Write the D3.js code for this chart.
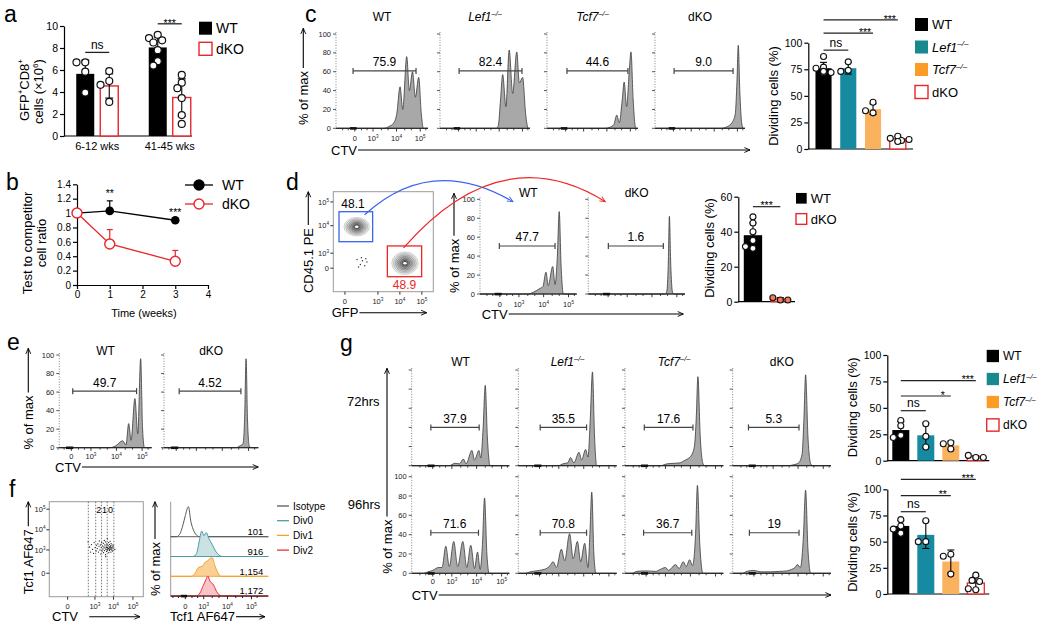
<!DOCTYPE html>
<html>
<head>
<meta charset="utf-8">
<script src="https://cdn.jsdelivr.net/npm/d3@7"></script>
<style>
  html,body{margin:0;padding:0;background:#fff;}
  svg{display:block;}
  text{font-family:"Liberation Sans",Arial,Helvetica,sans-serif;}
</style>
</head>
<body>
<svg id="fig" width="1050" height="632" viewBox="0 0 1050 632"></svg>
<script>
// ======================= DATA =======================
// --- panel a ---
const aGroups = ["6-12 wks", "41-45 wks"];
const aGenos = ["WT", "dKO"];
const aMeans = [[5.65, 4.55], [8.05, 3.5]];
const aSD = [[1.25, 1.1], [0.95, 1.7]];
const aPoints = [
  [[6.7, 6.7, 5.85, 3.95], [5.9, 5.0, 4.65, 3.1]],
  [[9.2, 8.9, 8.7, 8.5, 7.8, 6.8, 6.4], [5.55, 4.85, 4.35, 3.45, 1.9, 1.1]]
];
const aTicks = [0, 2, 4, 6, 8, 10];
const aSigLabels = ["ns", "***"];
const aSigLevel = [7.6, 10.2];

// --- panel b ---
const bTime = [0, 1, 3];
const bWT = [1, 1.03, 0.9];
const bWTsd = [0, 0.14, 0];
const bKO = [1, 0.57, 0.33];
const bKOsd = [0, 0.2, 0.15];
const bSig = ["", "**", "***"];
const bTicksY = [0, 0.2, 0.4, 0.6, 0.8, 1, 1.2, 1.4];
const bTicksX = [0, 1, 2, 3, 4];

// --- flow histogram common ---
const pctTicks = [0, 20, 40, 60, 80, 100];
const ctvTickPos = [0, 0.82, 1.88, 2.95];
const logTickLab = ["0", "10^{3}", "10^{4}", "10^{5}"];
const ctvMinor = [-0.55, -0.3, 0.3, 0.55, 1.2, 1.5, 2.25, 2.55, 3.2];

// --- panel c ---
const fourGenos = ["WT", "Lef1", "Tcf7", "dKO"];
const cHist = [
  [[-0.85,0],[1.3,0],[1.55,2],[1.73,5],[1.89,15],[2.04,44],[2.16,20],[2.34,76],[2.46,40],[2.6,60],[2.73,33],[2.88,54],[3.0,15],[3.09,0],[3.3,0]],
  [[-0.85,0],[1.75,0],[1.84,3],[1.94,30],[2.04,57],[2.19,23],[2.34,83],[2.5,37],[2.69,81],[2.81,48],[2.96,54],[3.1,15],[3.22,0],[3.3,0]],
  [[-0.85,0],[1.8,0],[2.0,1],[2.2,4],[2.33,14],[2.45,6],[2.58,30],[2.67,49],[2.78,23],[2.9,60],[2.98,81],[3.08,30],[3.2,0],[3.3,0]],
  [[-0.85,0],[2.2,0],[2.5,2],[2.7,6],[2.85,15],[2.93,50],[2.99,88],[3.06,40],[3.15,5],[3.22,0],[3.3,0]]
];
const cGates = [[-0.08, 2.76, 60.8], [0.03, 2.93, 60.8], [0.06, 2.84, 60.8], [0.03, 2.75, 60.8]];
const cGateLab = ["75.9", "82.4", "44.6", "9.0"];
const cMeans = [76, 76, 37.5, 9.5];
const cSD = [5.5, 5.5, 5, 2.5];
const cPoints = [[87, 77, 76, 72, 72, 73], [82, 74, 73], [44, 34, 36], [12, 10, 8, 9, 7]];
const cSig = [[0, 1, "ns", 93], [0, 2, "***", 109], [0, 3, "***", 121.5]];
const divTicks = [0, 25, 50, 75, 100];

// --- panel d ---
const dDotXTicks = [0, 1.5, 2.5, 3.5];
const dDotYTicks = [0, 0.6, 1.7, 2.65];
const dPops = [[0.535, 1.66, 0.58, 0.37], [2.73, 0.2, 0.6, 0.45]];   // GFP, CD45.1 centre and spread
const dContourLevels = [1, 0.86, 0.73, 0.6, 0.48, 0.36, 0.25, 0.15];
const dScatter = [[0.55,0.35],[0.7,0.15],[0.8,0.3],[0.9,0.1],[0.62,0.05],[1.0,0.25],[0.75,0.42],[0.95,0.38]];
const dGates = [[-0.27, 1.26, 1.06, 2.26], [1.93, 3.49, -0.34, 0.89]];
const dGateLab = ["48.1", "48.9"];
const dHistNames = ["WT", "dKO"];
const dHist = [
  [[-0.85,0],[1.2,0],[1.45,2],[1.73,6],[1.85,8],[1.98,23],[2.08,9],[2.27,29],[2.37,10],[2.47,40],[2.55,87],[2.63,30],[2.73,0],[3.3,0]],
  [[-0.85,0],[2.45,0],[2.52,3],[2.58,30],[2.63,82],[2.69,30],[2.76,2],[2.8,0],[3.3,0]]
];
const dHGates = [[-0.02, 2.37, 50.7], [0.01, 2.37, 50.7]];
const dHGateLab = ["47.7", "1.6"];
const dMeans = [38, 1.5];
const dSD = [7, 0.8];
const dPoints = [[48.5, 45, 40, 35, 30.5, 31.5], [1, 2.3, 1]];
const dTicks = [0, 20, 40, 60];
const dSig = [[0, 1, "***", 54.3]];

// --- panel e ---
const eHist = [
  [[-0.5,0],[1.6,0],[1.85,2],[2.14,7.5],[2.28,3],[2.39,26],[2.49,8],[2.65,53],[2.77,15],[2.89,96],[2.97,20],[3.05,0],[3.35,0]],
  [[-0.5,0],[2.45,0],[2.6,2],[2.72,4],[2.79,30],[2.85,96],[2.91,30],[2.98,2],[3.05,0],[3.35,0]]
];
const eGates = [[0.06, 2.72, 61], [0.12, 2.64, 61]];
const eGateLab = ["49.7", "4.52"];

// --- panel f ---
const fDotXTicks = [0, 1.4, 2.35, 3.35];
const fDotYTicks = [0, 1.15, 2.15, 3.17];
const fDivGates = [1.06, 1.44, 1.74, 2.03, 2.37];
const fDivLab = ["2", "1", "0"];
const fDots = [[1.05,1.55],[1.12,1.30],[1.18,1.05],[1.22,1.42],[1.28,1.18],[1.33,0.98],[1.36,1.52],[1.41,1.27],[1.46,1.10],[1.48,1.38],
  [1.52,1.22],[1.55,1.45],[1.58,1.05],[1.61,1.33],[1.63,1.60],[1.66,1.15],[1.68,1.40],[1.70,0.95],[1.72,1.27],[1.75,1.52],[1.77,1.10],[1.79,1.35],
  [1.81,1.20],[1.83,1.48],[1.84,1.02],[1.86,1.30],[1.88,1.62],[1.89,1.12],[1.91,1.40],[1.92,1.25],[1.94,0.92],[1.95,1.55],[1.97,1.18],[1.98,1.35],
  [2.00,1.08],[2.01,1.45],[2.03,1.28],[2.04,1.70],[2.06,1.15],[2.07,1.38],[2.09,1.22],[2.10,1.52],[2.11,1.02],[2.13,1.32],[2.14,1.42],[2.15,1.12],
  [2.17,1.27],[2.18,1.58],[2.19,1.20],[2.21,1.36],[2.22,1.05],[2.23,1.47],[2.25,1.25],[2.26,1.15],[2.28,1.40],[2.29,1.30],[2.31,1.10],[2.33,1.22],
  [2.35,1.35],[2.42,1.18],[1.95,0.82],[2.12,1.25],[2.20,1.30],[2.05,1.20],[1.99,1.27],[2.16,1.18]];
const fLayers = ["Isotype", "Div0", "Div1", "Div2"];
const fMFI = ["101", "916", "1,154", "1,172"];
const fHist = [
  [[-0.65,0],[-0.4,0],[-0.25,8],[-0.1,40],[0.0,70],[0.14,100],[0.25,50],[0.35,25],[0.5,5],[0.63,0],[3.7,0]],
  [[-0.65,0],[0.35,0],[0.5,10],[0.62,50],[0.73,85],[0.83,69],[0.93,80],[1.05,60],[1.2,40],[1.35,18],[1.5,5],[1.65,0],[3.7,0]],
  [[-0.65,0],[0.3,0],[0.45,12],[0.6,30],[0.75,33],[0.9,48],[1.0,52],[1.12,60],[1.2,62],[1.3,40],[1.45,12],[1.6,0],[3.7,0]],
  [[-0.65,0],[0.5,0],[0.65,10],[0.8,35],[0.92,55],[1.0,67],[1.1,50],[1.25,38],[1.4,15],[1.55,2],[1.65,0],[3.7,0]]
];

// --- panel g ---
const gTimes = ["72hrs", "96hrs"];
const g72Hist = [
  [[-0.9,0],[0.7,0],[0.96,2.5],[1.15,2],[1.31,7],[1.43,2],[1.68,16],[1.79,6],[1.98,16],[2.06,8],[2.16,40],[2.25,84],[2.34,30],[2.46,0],[3.28,0]],
  [[-0.9,0],[0.8,0],[1.0,2],[1.2,3],[1.32,8.5],[1.46,3],[1.68,14],[1.79,6],[1.96,17],[2.06,9],[2.16,50],[2.25,98],[2.34,30],[2.43,0],[3.28,0]],
  [[-0.9,0],[0.6,0],[0.9,2],[1.2,2.5],[1.45,3],[1.6,5],[1.75,7],[1.9,10],[2.05,20],[2.13,50],[2.2,93],[2.3,30],[2.42,2],[2.5,0],[3.28,0]],
  [[-0.9,0],[1.4,0],[1.7,1],[1.9,3],[2.05,12],[2.13,50],[2.2,95],[2.3,30],[2.42,2],[2.5,0],[3.28,0]]
];
const g96Hist = [
  [[-0.9,0],[-0.4,0],[-0.2,1.5],[0.0,3],[0.25,6],[0.4,6],[0.56,28],[0.71,7],[0.9,33],[1.07,7],[1.29,33],[1.46,6],[1.63,29],[1.79,5],[1.92,22],[2.03,4],[2.13,30],[2.22,78],[2.32,20],[2.42,0],[3.28,0]],
  [[-0.9,0],[-0.6,0],[-0.4,1.5],[0.0,3],[0.3,5],[0.45,8],[0.58,12],[0.72,6],[0.93,25],[1.07,13],[1.28,41],[1.43,15],[1.61,33],[1.75,12],[1.92,31],[2.06,6],[2.14,40],[2.22,84],[2.31,20],[2.4,0],[3.28,0]],
  [[-0.9,0],[-0.6,0],[-0.4,2],[0.0,2.5],[0.4,2],[0.6,4],[0.82,6],[0.95,3],[1.25,9],[1.4,5],[1.58,12],[1.7,7],[1.85,14],[1.97,8],[2.1,40],[2.18,91],[2.28,30],[2.42,0],[3.28,0]],
  [[-0.9,0],[-0.5,0],[-0.3,2],[0,3],[0.3,1.5],[0.7,1.5],[1.1,2],[1.4,2.5],[1.6,4],[1.75,6],[1.85,9],[1.98,6],[2.1,35],[2.2,86],[2.3,25],[2.42,0],[3.28,0]]
];
const g72Gates = [[-0.08, 1.99, 40], [0.03, 2.0, 40], [-0.08, 1.99, 40], [-0.23, 1.92, 40]];
const g72GateLab = ["37.9", "35.5", "17.6", "5.3"];
const g96Gates = [[-0.08, 1.96, 42], [0.03, 2.0, 42], [-0.11, 1.94, 42], [-0.19, 1.92, 42]];
const g96GateLab = ["71.6", "70.8", "36.7", "19"];
const g72Means = [29, 24, 14.5, 3.7];
const g72SD = [8, 11.5, 4, 1.2];
const g72Points = [[38, 33, 24, 22], [35, 23, 13], [17, 16, 11], [3, 5, 3]];
const g72Sig = [[0, 1, "ns", 47.3], [0, 2, "*", 61.2], [0, 3, "***", 75.7]];
const g96Means = [65, 56.5, 31, 10.5];
const g96SD = [5.5, 13, 11, 6.5];
const g96Points = [[71, 65, 62, 58], [70, 50, 50], [38, 36, 19], [18, 13, 12, 4, 5]];
const g96Sig = [[0, 1, "ns", 78.6], [0, 2, "**", 93.9], [0, 3, "***", 109.5]];

// ======================= STYLE =======================
const C_TEAL = "#168aa0", C_TEAL_L = "#17898f";
const C_ORANGE = "#fbb25e", C_ORANGE_L = "#fd9b27";
const C_RED = "#e8262b";
const barFill = ["#000", C_TEAL, C_ORANGE, "#fff"];
const barStroke = [null, null, null, C_RED];
const legFill = ["#000", C_TEAL_L, C_ORANGE_L, "#fff"];
const legStroke = [null, null, null, C_RED];
const fStroke = ["#5a5a5a", "#4d9aa1", "#f4a02c", "#ee2e3b"];
const fFill = ["none", "#c9e2e2", "#fbd095", "#f8c4c7"];

// ======================= HELPERS =======================
const svg = d3.select("#fig");
svg.append("rect").attr("width", 1050).attr("height", 632).attr("fill", "#fff");
const defs = svg.append("defs");
[["arr", "#000"], ["arrB", "#3a63ee"], ["arrR", "#ee2525"]].forEach(([id, c]) => {
  defs.append("marker").attr("id", id).attr("viewBox", "0 0 10 10").attr("refX", 9).attr("refY", 5)
    .attr("markerWidth", 7).attr("markerHeight", 7).attr("markerUnits", "userSpaceOnUse").attr("orient", "auto")
    .append("path").attr("d", "M1,1.5 L9,5 L1,8.5").attr("fill", "none").attr("stroke", c).attr("stroke-width", 1.3);
});

function rich(t, s, size) {
  const parts = s.split(/(\^\{[^}]*\})/).filter(p => p !== "");
  let shift = 0;
  parts.forEach(p => {
    const m = p.match(/^\^\{([^}]*)\}$/);
    const ts = t.append("tspan");
    if (m) { ts.text(m[1]).attr("font-size", size * 0.62).attr("dy", -size * 0.4 - shift); shift = -size * 0.4; }
    else { ts.text(p); if (shift !== 0) ts.attr("dy", -shift); shift = 0; }
  });
}
function txt(g, x, y, s, size, o = {}) {
  const t = g.append("text").attr("x", x).attr("y", y).attr("font-size", size)
    .attr("text-anchor", o.anchor || "start").attr("fill", o.fill || "#000");
  if (o.italic) t.attr("font-style", "italic");
  if (o.rotate) t.attr("transform", `rotate(-90,${x},${y})`);
  rich(t, s, size);
  return t;
}
function genoLabel(n) {
  if (n === "Lef1" || n === "Tcf7") return { s: n + "^{\u2013/\u2013}", italic: true };
  return { s: n, italic: false };
}
function vArrow(g, cx, cy, s, yTop, size) {
  const t = txt(g, cx + size * 0.36, cy, s, size, { anchor: "middle", rotate: true });
  const w = t.node().getComputedTextLength();
  g.append("line").attr("x1", cx).attr("x2", cx).attr("y1", cy - w / 2 - 3).attr("y2", yTop)
    .attr("stroke", "#000").attr("stroke-width", 1.1).attr("marker-end", "url(#arr)");
}
function hArrow(g, x, y, s, x2, size, startX) {
  const t = txt(g, x, y + size * 0.36, s, size);
  const w = t.node().getComputedTextLength();
  g.append("line").attr("x1", startX !== undefined ? startX : x + w + 1).attr("x2", x2).attr("y1", y).attr("y2", y)
    .attr("stroke", "#000").attr("stroke-width", 1.1).attr("marker-end", "url(#arr)");
}
function styleAxis(sel, fs) {
  sel.attr("font-family", null).attr("font-size", null);
  sel.select(".domain").attr("stroke", "#000").attr("stroke-width", 1.2);
  sel.selectAll(".tick line").attr("stroke", "#000").attr("stroke-width", 1.2);
  sel.selectAll(".tick text").attr("font-size", fs).attr("fill", "#000");
}
function swarm(vals, cx, y, r) {
  const placed = [];
  const offs = [0, -1, 1, -2, 2, -3, 3];
  return vals.map(v => {
    const py = y(v);
    for (const k of offs) {
      const px = cx + k * r * 1.25;
      if (placed.every(p => Math.hypot(p[0] - px, p[1] - py) >= 1.75 * r)) { placed.push([px, py]); return [px, py]; }
    }
    placed.push([cx, py]); return [cx, py];
  });
}
function gate(g, x, y, gt, lab) {
  const [u0, u1, gy] = gt, yy = y(gy);
  g.append("line").attr("x1", x(u0)).attr("x2", x(u1)).attr("y1", yy).attr("y2", yy).attr("stroke", "#444").attr("stroke-width", 1.2);
  [u0, u1].forEach(u => g.append("line").attr("x1", x(u)).attr("x2", x(u)).attr("y1", yy - 3).attr("y2", yy + 3).attr("stroke", "#444").attr("stroke-width", 1.2));
  txt(g, (x(u0) + x(u1)) / 2, yy - 4.5, lab, 12, { anchor: "middle" });
}
function flowHist(g, o) {
  const x = d3.scaleLinear().domain(o.dom).range([o.x0, o.x1]);
  const y = d3.scaleLinear().domain([0, 100]).range([o.yBot, o.yTop]);
  g.append("line").attr("x1", o.x0).attr("x2", o.x0).attr("y1", o.yTop - 2).attr("y2", o.yBot)
    .attr("stroke", "#777").attr("stroke-width", 0.9).attr("stroke-dasharray", "1,1.6");
  pctTicks.forEach(t => {
    g.append("line").attr("x1", o.x0 - 3).attr("x2", o.x0).attr("y1", y(t)).attr("y2", y(t)).attr("stroke", "#444").attr("stroke-width", 0.9);
    if (o.yLabels) txt(g, o.x0 - 5, y(t) + 2.6, String(t), 7.5, { anchor: "end", fill: "#222" });
  });
  const area = d3.area().x(d => x(d[0])).y0(y(0)).y1(d => y(d[1])).curve(d3.curveMonotoneX);
  g.append("path").datum(o.data).attr("d", area).attr("fill", "#a8a8a8").attr("stroke", "#3a3a3a")
    .attr("stroke-width", 0.8).attr("stroke-linejoin", "round");
  g.append("line").attr("x1", o.x0).attr("x2", o.x1).attr("y1", o.yBot).attr("y2", o.yBot).attr("stroke", "#222").attr("stroke-width", 1);
  ctvTickPos.forEach(p => g.append("line").attr("x1", x(p)).attr("x2", x(p)).attr("y1", o.yBot).attr("y2", o.yBot + 3.2).attr("stroke", "#222").attr("stroke-width", 0.9));
  ctvMinor.forEach(p => g.append("line").attr("x1", x(p)).attr("x2", x(p)).attr("y1", o.yBot).attr("y2", o.yBot + 2).attr("stroke", "#222").attr("stroke-width", 0.8));
  g.append("rect").attr("x", x(-0.22)).attr("y", o.yBot - 1.2).attr("width", x(0.08) - x(-0.22)).attr("height", 2.6).attr("fill", "#111");
  if (o.xLabels) logTickLab.forEach((s, i) => txt(g, x(ctvTickPos[i]), o.xLabY, s, 7.5, { anchor: "middle", fill: "#222" }));
  if (o.gate) gate(g, x, y, o.gate, o.gateLab);
  if (o.title) { const gl = genoLabel(o.title); txt(g, (o.x0 + o.x1) / 2, o.titleY, gl.s, 12, { anchor: "middle", italic: gl.italic }); }
  return { x, y };
}
function barChart(g, o) {
  const x = d3.scaleBand().domain(o.cats).range(o.xr).paddingInner(o.pi).paddingOuter(o.po);
  const y = d3.scaleLinear().domain([0, o.yMax]).range(o.yr);
  const bw = x.bandwidth();
  const ax = g.append("g").attr("transform", `translate(${o.xr[0]},0)`)
    .call(d3.axisLeft(y).tickValues(o.ticks).tickSize(4).tickSizeOuter(0).tickPadding(2));
  styleAxis(ax, 10.5);
  g.append("line").attr("x1", o.xr[0]).attr("x2", o.xr[1]).attr("y1", y(0)).attr("y2", y(0)).attr("stroke", "#000").attr("stroke-width", 1.2);
  o.cats.forEach((c, i) => {
    const bx = x(c), m = o.means[i], sd = o.sds[i], cx = bx + bw / 2;
    g.append("rect").attr("x", bx).attr("y", y(m)).attr("width", bw).attr("height", y(0) - y(m))
      .attr("fill", o.fills[i]).attr("stroke", o.strokes[i] || "none").attr("stroke-width", 1.3);
    g.append("line").attr("x1", cx).attr("x2", cx).attr("y1", y(Math.max(0, m - sd))).attr("y2", y(m + sd)).attr("stroke", "#000").attr("stroke-width", 1.1);
    [m + sd, Math.max(0, m - sd)].forEach(v => g.append("line").attr("x1", cx - 3.5).attr("x2", cx + 3.5).attr("y1", y(v)).attr("y2", y(v)).attr("stroke", "#000").attr("stroke-width", 1.1));
    swarm(o.points[i], cx, y, o.r).forEach(([px, py]) => g.append("circle").attr("cx", px).attr("cy", py).attr("r", o.r)
      .attr("fill", (o.ptFill && o.ptFill[i]) || "#fff").attr("stroke", "#111").attr("stroke-width", 1.1));
  });
  (o.sig || []).forEach(([i, j, lab, lv]) => {
    const xa = x(o.cats[i]) + bw / 2, xb = x(o.cats[j]) + bw / 2, yy = y(lv);
    g.append("line").attr("x1", xa).attr("x2", xb).attr("y1", yy).attr("y2", yy).attr("stroke", "#222").attr("stroke-width", 1.2);
    const tx = (j - i > 1) ? xb - 8 : (xa + xb) / 2;
    if (lab === "ns") txt(g, tx, yy - 3.5, lab, 12, { anchor: "middle" });
    else txt(g, tx, yy + 2.8, lab, 10.5, { anchor: "middle" });
  });
  return { x, y };
}
function legend(g, x, yc0, step, sz, names, fills, strokes, fs) {
  names.forEach((n, i) => {
    const yc = yc0 + i * step;
    g.append("rect").attr("x", x).attr("y", yc - sz / 2).attr("width", sz).attr("height", sz)
      .attr("fill", fills[i]).attr("stroke", strokes[i] || "none").attr("stroke-width", 1.4);
    const gl = genoLabel(n);
    txt(g, x + sz + 4, yc + fs * 0.36, gl.s, fs, { italic: gl.italic });
  });
}

// ======================= PANEL LETTERS =======================
[["a", 4, 22], ["b", 6, 190], ["c", 305, 22], ["d", 286, 190], ["e", 7, 350], ["f", 9, 497], ["g", 340, 351]]
  .forEach(([l, x, y]) => txt(svg, x, y, l, 23));

// ======================= PANEL A =======================
(function () {
  const g = svg.append("g");
  const y = d3.scaleLinear().domain([0, 10]).range([136, 26]);
  const xg = d3.scaleBand().domain(aGroups).range([61, 206]);
  const xi = d3.scaleBand().domain(aGenos).range([0, xg.bandwidth()]).paddingInner(0.25).paddingOuter(0.635);
  const ax = g.append("g").attr("transform", "translate(64,0)").call(d3.axisLeft(y).tickValues(aTicks).tickSize(4).tickSizeOuter(0).tickPadding(2));
  styleAxis(ax, 10.5);
  g.append("line").attr("x1", 64).attr("x2", 192).attr("y1", y(0)).attr("y2", y(0)).attr("stroke", "#000").attr("stroke-width", 1.2);
  const bw = xi.bandwidth();
  aGroups.forEach((grp, gi) => {
    const centers = [];
    aGenos.forEach((gen, k) => {
      const bx = xg(grp) + xi(gen), m = aMeans[gi][k], sd = aSD[gi][k], cx = bx + bw / 2;
      centers.push(cx);
      g.append("rect").attr("x", bx).attr("y", y(m)).attr("width", bw).attr("height", y(0) - y(m))
        .attr("fill", k === 0 ? "#000" : "#fff").attr("stroke", k === 0 ? "none" : C_RED).attr("stroke-width", 1.4);
      g.append("line").attr("x1", cx).attr("x2", cx).attr("y1", y(m - sd)).attr("y2", y(m + sd)).attr("stroke", "#000").attr("stroke-width", 1.1);
      [m + sd, m - sd].forEach(v => g.append("line").attr("x1", cx - 4).attr("x2", cx + 4).attr("y1", y(v)).attr("y2", y(v)).attr("stroke", "#000").attr("stroke-width", 1.1));
      swarm(aPoints[gi][k], cx, y, 3.5).forEach(([px, py]) => g.append("circle").attr("cx", px).attr("cy", py).attr("r", 3.5)
        .attr("fill", "#fff").attr("stroke", "#111").attr("stroke-width", 1.2));
    });
    txt(g, xg(grp) + xg.bandwidth() / 2, 150, grp, 11, { anchor: "middle" });
    const yy = y(aSigLevel[gi]);
    g.append("line").attr("x1", centers[0]).attr("x2", centers[1]).attr("y1", yy).attr("y2", yy).attr("stroke", "#222").attr("stroke-width", 1.3);
    if (aSigLabels[gi] === "ns") txt(g, (centers[0] + centers[1]) / 2, yy - 3.5, "ns", 12, { anchor: "middle" });
    else txt(g, (centers[0] + centers[1]) / 2, yy + 2.8, aSigLabels[gi], 10.5, { anchor: "middle" });
  });
  legend(g, 199, 28.2, 20.6, 13, aGenos, ["#000", "#fff"], [null, C_RED], 14);
  txt(g, 24 + 4.7, 90, "GFP^{+}CD8^{+}", 13, { anchor: "middle", rotate: true });
  txt(g, 38.5 + 4.7, 91.5, "cells (\u00d710^{6})", 13, { anchor: "middle", rotate: true });
})();

// ======================= PANEL B =======================
(function () {
  const g = svg.append("g");
  const x = d3.scaleLinear().domain([0, 4]).range([77, 208]);
  const y = d3.scaleLinear().domain([0, 1.4]).range([285, 184.3]);
  const ay = g.append("g").attr("transform", "translate(77,0)").call(d3.axisLeft(y).tickValues(bTicksY).tickFormat(d3.format("~g")).tickSize(4).tickSizeOuter(0).tickPadding(2));
  styleAxis(ay, 10);
  const axx = g.append("g").attr("transform", "translate(0,285)").call(d3.axisBottom(x).tickValues(bTicksX).tickFormat(d3.format("d")).tickSize(4).tickSizeOuter(0).tickPadding(2));
  styleAxis(axx, 10);
  const line = d3.line().x((d, i) => x(bTime[i])).y(d => y(d));
  [[bWT, bWTsd, "#000"], [bKO, bKOsd, C_RED]].forEach(([vals, sds, col]) => {
    vals.forEach((v, i) => {
      if (sds[i] > 0) {
        g.append("line").attr("x1", x(bTime[i])).attr("x2", x(bTime[i])).attr("y1", y(v)).attr("y2", y(v + sds[i])).attr("stroke", col).attr("stroke-width", 1.2);
        g.append("line").attr("x1", x(bTime[i]) - 3).attr("x2", x(bTime[i]) + 3).attr("y1", y(v + sds[i])).attr("y2", y(v + sds[i])).attr("stroke", col).attr("stroke-width", 1.2);
      }
    });
  });
  g.append("path").datum(bKO).attr("d", line).attr("fill", "none").attr("stroke", C_RED).attr("stroke-width", 1.3);
  g.append("path").datum(bWT).attr("d", line).attr("fill", "none").attr("stroke", "#000").attr("stroke-width", 1.3);
  bKO.forEach((v, i) => g.append("circle").attr("cx", x(bTime[i])).attr("cy", y(v)).attr("r", 5).attr("fill", "#fff").attr("stroke", C_RED).attr("stroke-width", 1.4));
  bWT.forEach((v, i) => { if (i > 0) g.append("circle").attr("cx", x(bTime[i])).attr("cy", y(v)).attr("r", 4.3).attr("fill", "#000"); });
  bSig.forEach((s, i) => { if (s) txt(g, x(bTime[i]), y(bWT[i] + bWTsd[i]) - 4, s, 10.5, { anchor: "middle" }); });
  [["WT", "#000", "#000", 185], ["dKO", C_RED, "#fff", 204]].forEach(([n, c, f, yy]) => {
    g.append("line").attr("x1", 185).attr("x2", 213).attr("y1", yy).attr("y2", yy).attr("stroke", c).attr("stroke-width", 1.3);
    g.append("circle").attr("cx", 199).attr("cy", yy).attr("r", 5).attr("fill", f).attr("stroke", c).attr("stroke-width", 1.4);
    txt(g, 222, yy + 5, n, 14);
  });
  txt(g, 27.5 + 4.7, 243, "Test to competitor", 13, { anchor: "middle", rotate: true });
  txt(g, 41.5 + 4.7, 243, "cell ratio", 13, { anchor: "middle", rotate: true });
  txt(g, 144, 317, "Time (weeks)", 11, { anchor: "middle" });
})();

// ======================= PANEL C =======================
(function () {
  const g = svg.append("g");
  const panX = [[336, 428], [440, 530], [547, 638], [655, 745]];
  fourGenos.forEach((n, i) => flowHist(g, {
    x0: panX[i][0], x1: panX[i][1], yTop: 34, yBot: 128.3, dom: [-0.85, 3.3], data: cHist[i],
    gate: cGates[i], gateLab: cGateLab[i], title: n, titleY: 21, yLabels: i === 0, xLabels: i === 0, xLabY: 141
  }));
  vArrow(g, 303.3, 98, "% of max", 28.3, 13);
  hArrow(g, 331, 150, "CTV", 750, 13);
  barChart(g, {
    cats: fourGenos, xr: [808.3, 913], pi: 0.35, po: 0.29, yr: [149, 42.7], yMax: 100, ticks: divTicks,
    means: cMeans, sds: cSD, points: cPoints, fills: barFill, strokes: barStroke, r: 3, sig: cSig
  });
  txt(g, 773.3 + 4.7, 96, "Dividing cells (%)", 13, { anchor: "middle", rotate: true });
  legend(g, 915, 24.5, 22.5, 13, fourGenos, legFill, legStroke, 13);
})();

// ======================= PANEL D =======================
(function () {
  const g = svg.append("g");
  const dx = d3.scaleLinear().domain([-0.53, 4.02]).range([333.3, 433.3]);
  const dy = d3.scaleLinear().domain([-0.94, 3.06]).range([291.7, 191.7]);
  g.append("rect").attr("x", 333.3).attr("y", 191.7).attr("width", 100).attr("height", 100).attr("fill", "none").attr("stroke", "#9a9a9a").attr("stroke-width", 1);
  dDotYTicks.forEach((v, i) => {
    g.append("line").attr("x1", 330.3).attr("x2", 333.3).attr("y1", dy(v)).attr("y2", dy(v)).attr("stroke", "#333");
    txt(g, 329, dy(v) + 2.6, logTickLab[i], 7.5, { anchor: "end", fill: "#222" });
  });
  dDotXTicks.forEach((u, i) => {
    g.append("line").attr("x1", dx(u)).attr("x2", dx(u)).attr("y1", 291.7).attr("y2", 294.7).attr("stroke", "#333");
    txt(g, dx(u), 304, logTickLab[i], 7.5, { anchor: "middle", fill: "#222" });
  });
  dPops.forEach(([u, v, ru, rv]) => {
    dContourLevels.forEach((l, k) => {
      g.append("ellipse").attr("cx", dx(u)).attr("cy", dy(v)).attr("rx", (dx(u + ru) - dx(u)) * l).attr("ry", (dy(v) - dy(v + rv)) * l)
        .attr("fill", "rgba(0,0,0,0.08)").attr("stroke", d3.interpolateGreys(0.35 + 0.6 * k / dContourLevels.length)).attr("stroke-width", 0.7);
    });
    g.append("ellipse").attr("cx", dx(u)).attr("cy", dy(v)).attr("rx", 1.8).attr("ry", 1.2).attr("fill", "#fff");
  });
  dScatter.forEach(([u, v]) => g.append("circle").attr("cx", dx(u)).attr("cy", dy(v)).attr("r", 0.7).attr("fill", "#333"));
  const gcol = ["#3a63ee", "#ee2525"];
  dGates.forEach(([u0, u1, v0, v1], i) => g.append("rect").attr("x", dx(u0)).attr("y", dy(v1)).attr("width", dx(u1) - dx(u0)).attr("height", dy(v0) - dy(v1))
    .attr("fill", "none").attr("stroke", gcol[i]).attr("stroke-width", 1.3));
  txt(g, dx(dGates[0][0]) + 14, dy(dGates[0][3]) - 4, dGateLab[0], 12, { anchor: "middle" });
  txt(g, (dx(dGates[1][0]) + dx(dGates[1][1])) / 2, dy(dGates[1][2]) + 12.6, dGateLab[1], 12, { anchor: "middle", fill: "#ee2525" });
  vArrow(g, 308.3, 260.5, "CD45.1 PE", 191.7, 13);
  hArrow(g, 331.7, 312.7, "GFP", 426.7, 13);
  const panX = [[480, 576.7], [588.3, 685]];
  dHistNames.forEach((n, i) => flowHist(g, {
    x0: panX[i][0], x1: panX[i][1], yTop: 199.3, yBot: 294, dom: [-0.85, 3.3], data: dHist[i],
    gate: dHGates[i], gateLab: dHGateLab[i], title: n, titleY: 196.5, yLabels: i === 0, xLabels: i === 0, xLabY: 306.5
  }));
  vArrow(g, 454, 265.8, "% of max", 193.3, 13);
  hArrow(g, 481.7, 314, "CTV", 683.3, 13);
  const bs = [dx(dGates[0][1]) - 8, dy(dGates[0][3]) + 3], be = [panX[0][0] + 33, 201.7];
  const rs = [(dx(dGates[1][0]) + dx(dGates[1][1])) / 2 - 1, dy(dGates[1][3]) + 2], re = [panX[1][0] + 17, 201.7];
  g.append("path").attr("d", `M${bs[0]},${bs[1]} Q${bs[0] + 0.45 * (be[0] - bs[0])},${be[1] - 48} ${be[0]},${be[1]}`)
    .attr("fill", "none").attr("stroke", "#3a63ee").attr("stroke-width", 1.2).attr("marker-end", "url(#arrB)");
  g.append("path").attr("d", `M${rs[0]},${rs[1]} Q${rs[0] + 0.48 * (re[0] - rs[0])},${re[1] - 65} ${re[0]},${re[1]}`)
    .attr("fill", "none").attr("stroke", "#ee2525").attr("stroke-width", 1.2).attr("marker-end", "url(#arrR)");
  barChart(g, {
    cats: dHistNames, xr: [738.3, 795], pi: 0.33, po: 0.2, yr: [301.7, 196.7], yMax: 60, ticks: dTicks,
    means: dMeans, sds: dSD, points: dPoints, fills: ["#000", "#fff"], strokes: [null, C_RED], r: 3, sig: dSig,
    ptFill: ["#fff", "#f07a5a"]
  });
  txt(g, 709 + 4.7, 248, "Dividing cells (%)", 13, { anchor: "middle", rotate: true });
  legend(g, 796, 198.3, 20.7, 10.7, dHistNames, ["#000", "#fff"], [null, C_RED], 13);
})();

// ======================= PANEL E =======================
(function () {
  const g = svg.append("g");
  const panX = [[59.3, 151.7], [164, 258.3]];
  ["WT", "dKO"].forEach((n, i) => flowHist(g, {
    x0: panX[i][0], x1: panX[i][1], yTop: 355, yBot: 447.7, dom: [-0.5, 3.35], data: eHist[i],
    gate: eGates[i], gateLab: eGateLab[i], title: n, titleY: 354.5, yLabels: i === 0, xLabels: i === 0, xLabY: 459.3
  }));
  vArrow(g, 28.3, 422.5, "% of max", 348.3, 13);
  hArrow(g, 55, 467, "CTV", 258.3, 13);
})();

// ======================= PANEL F =======================
(function () {
  const g = svg.append("g");
  const fx = d3.scaleLinear().domain([-0.94, 3.88]).range([49.3, 143.3]);
  const fy = d3.scaleLinear().domain([-1.16, 3.54]).range([596.7, 501.7]);
  g.append("rect").attr("x", 49.3).attr("y", 501.7).attr("width", 94).attr("height", 95).attr("fill", "none").attr("stroke", "#9a9a9a");
  fDotYTicks.forEach((v, i) => {
    g.append("line").attr("x1", 46.3).attr("x2", 49.3).attr("y1", fy(v)).attr("y2", fy(v)).attr("stroke", "#333");
    txt(g, 45.5, fy(v) + 2.6, logTickLab[i], 7.5, { anchor: "end", fill: "#222" });
  });
  fDotXTicks.forEach((u, i) => {
    g.append("line").attr("x1", fx(u)).attr("x2", fx(u)).attr("y1", 596.7).attr("y2", 599.7).attr("stroke", "#333");
    txt(g, fx(u), 608.5, logTickLab[i], 7.5, { anchor: "middle", fill: "#222" });
  });
  fDivGates.forEach(u => g.append("line").attr("x1", fx(u)).attr("x2", fx(u)).attr("y1", 501.7).attr("y2", 596.7)
    .attr("stroke", "#555").attr("stroke-width", 0.8).attr("stroke-dasharray", "1.5,1.5"));
  fDivLab.forEach((s, i) => txt(g, (fx(fDivGates[i + 1]) + fx(fDivGates[i + 2])) / 2, 512.5, s, 9, { anchor: "middle" }));
  fDots.forEach(([u, v]) => g.append("circle").attr("cx", fx(u)).attr("cy", fy(v)).attr("r", 0.65).attr("fill", "#222"));
  vArrow(g, 28.3, 561.7, "Tcf1 AF647", 501.7, 13);
  hArrow(g, 52, 616.7, "CTV", 140, 13, 89.3);
  const hx = d3.scaleLinear().domain([-0.65, 3.7]).range([170.7, 268.3]);
  g.append("line").attr("x1", 170.7).attr("x2", 170.7).attr("y1", 501.7).attr("y2", 596).attr("stroke", "#9a9a9a");
  fLayers.forEach((n, i) => {
    const base = 536.7 + i * 19.8;
    const ly = d3.scaleLinear().domain([0, 100]).range([base, base - 30]);
    const area = d3.area().x(d => hx(d[0])).y0(ly(0)).y1(d => ly(d[1])).curve(d3.curveMonotoneX);
    g.append("path").datum(fHist[i]).attr("d", area).attr("fill", fFill[i]).attr("stroke", fStroke[i]).attr("stroke-width", 1);
    txt(g, 263.3, base - 1.8, fMFI[i], 9.5, { anchor: "end" });
  });
  g.append("line").attr("x1", 170.7).attr("x2", 268.3).attr("y1", 596).attr("y2", 596).attr("stroke", "#222");
  ctvTickPos.forEach((p, i) => {
    g.append("line").attr("x1", hx(p)).attr("x2", hx(p)).attr("y1", 596).attr("y2", 599.2).attr("stroke", "#222");
    txt(g, hx(p), 608.5, logTickLab[i], 7.5, { anchor: "middle", fill: "#222" });
  });
  ctvMinor.forEach(p => g.append("line").attr("x1", hx(p)).attr("x2", hx(p)).attr("y1", 596).attr("y2", 598).attr("stroke", "#222"));
  g.append("rect").attr("x", hx(-0.2)).attr("y", 594.8).attr("width", hx(0.08) - hx(-0.2)).attr("height", 2.6).attr("fill", "#111");
  vArrow(g, 155, 569, "% of max", 501.7, 13);
  hArrow(g, 170, 616.7, "Tcf1 AF647", 265, 13);
  fLayers.forEach((n, i) => {
    const yc = 506 + i * 14.7;
    g.append("line").attr("x1", 277).attr("x2", 289).attr("y1", yc).attr("y2", yc).attr("stroke", fStroke[i]).attr("stroke-width", 1.3);
    txt(g, 293, yc + 3.6, n, 10);
  });
})();

// ======================= PANEL G =======================
(function () {
  const g = svg.append("g");
  const panX = [[411.7, 509.3], [518.3, 616.7], [625, 723.3], [732.7, 831]];
  fourGenos.forEach((n, i) => {
    flowHist(g, {
      x0: panX[i][0], x1: panX[i][1], yTop: 370, yBot: 465.7, dom: [-0.9, 3.28], data: g72Hist[i],
      gate: g72Gates[i], gateLab: g72GateLab[i], title: n, titleY: 366, yLabels: false, xLabels: false
    });
    flowHist(g, {
      x0: panX[i][0], x1: panX[i][1], yTop: 476.7, yBot: 573.3, dom: [-0.9, 3.28], data: g96Hist[i],
      gate: g96Gates[i], gateLab: g96GateLab[i], title: null, yLabels: i === 0, xLabels: i === 0, xLabY: 584.3
    });
  });
  txt(g, 363.3, 405.5, gTimes[0], 13, { anchor: "middle" });
  txt(g, 364, 509, gTimes[1], 13, { anchor: "middle" });
  vArrow(g, 387, 546.7, "% of max", 368.3, 13);
  hArrow(g, 411.7, 595, "CTV", 831, 13);
  const common = { cats: fourGenos, xr: [887.3, 989.3], pi: 0.32, po: 0.2, yMax: 100, ticks: divTicks, fills: barFill, strokes: barStroke, r: 3 };
  barChart(g, Object.assign({}, common, { yr: [460.7, 355], means: g72Means, sds: g72SD, points: g72Points, sig: g72Sig }));
  barChart(g, Object.assign({}, common, { yr: [594, 489.3], means: g96Means, sds: g96SD, points: g96Points, sig: g96Sig }));
  txt(g, 852.5 + 4.7, 407.3, "Dividing cells (%)", 13, { anchor: "middle", rotate: true });
  txt(g, 852.5 + 4.7, 542, "Dividing cells (%)", 13, { anchor: "middle", rotate: true });
  legend(g, 986.7, 356, 23, 12.3, fourGenos, legFill, legStroke, 12);
})();
</script>
</body>
</html>
